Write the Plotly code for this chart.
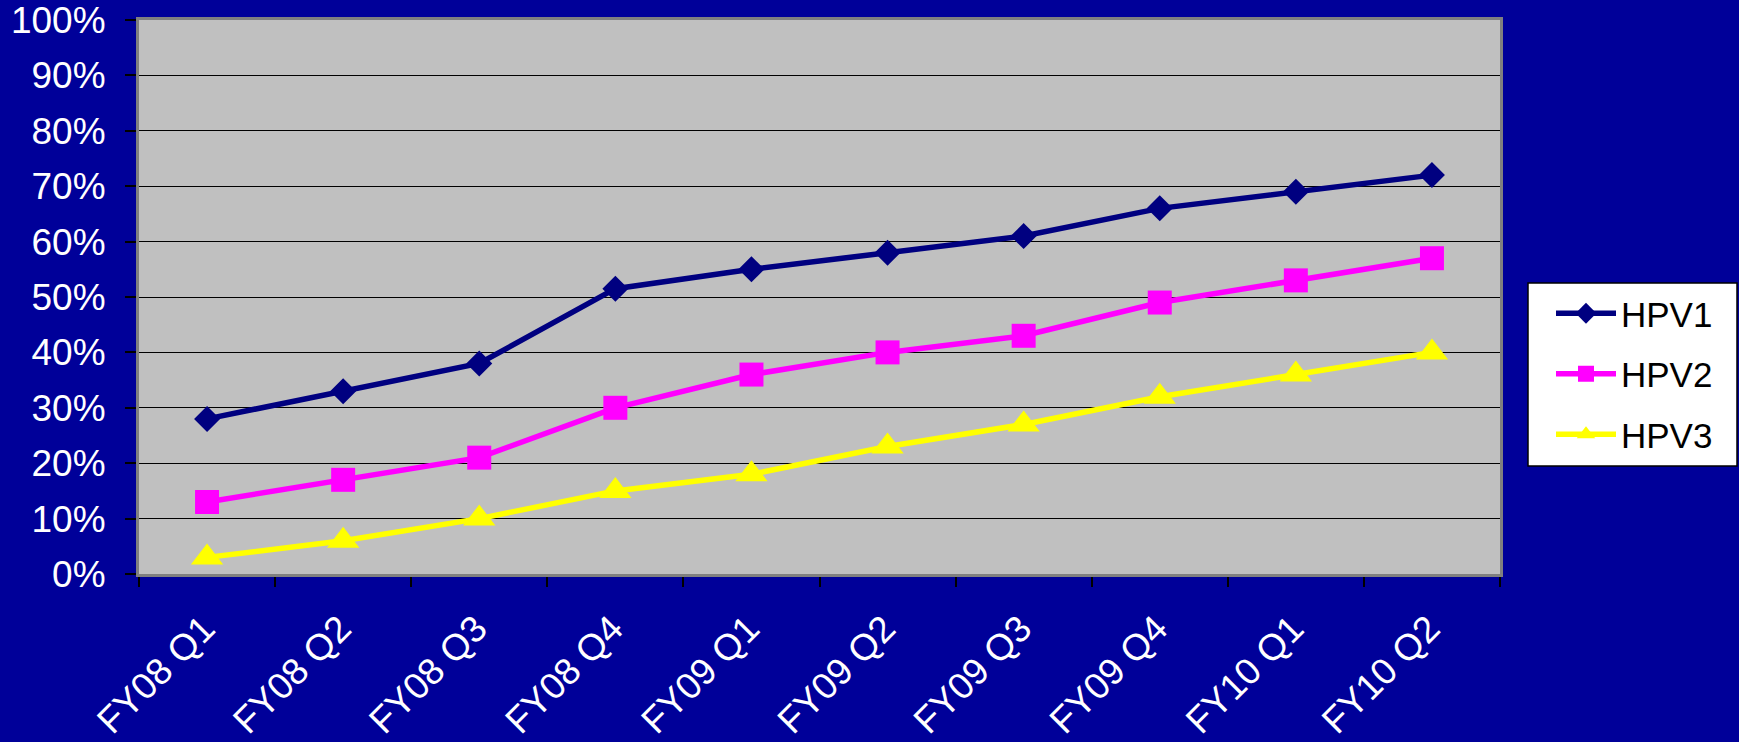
import plotly.graph_objects as go

categories = ["FY08 Q1", "FY08 Q2", "FY08 Q3", "FY08 Q4", "FY09 Q1",
              "FY09 Q2", "FY09 Q3", "FY09 Q4", "FY10 Q1", "FY10 Q2"]
hpv1 = [28, 33, 38, 51.5, 55, 58, 61, 66, 69, 72]
hpv2 = [13, 17, 21, 30, 36, 40, 43, 49, 53, 57]
hpv3 = [3, 6, 10, 15, 18, 23, 27, 32, 36, 40]
y_ticks = [0, 10, 20, 30, 40, 50, 60, 70, 80, 90, 100]
y_labels = [f"{v}%" for v in y_ticks]

series = [
    ("HPV1", hpv1, "#000080", "diamond", 20),
    ("HPV2", hpv2, "#FF00FF", "square", 24),
    ("HPV3", hpv3, "#FFFF00", "triangle-up", 28),
]

W, H = 1739, 742
L, R, T, B = 139, 239, 20, 168
plot_w = W - L - R
plot_h = H - T - B


def px_x(px):
    return (px - L) / plot_w


def px_y(py):
    return (H - B - py) / plot_h


fig = go.Figure()
for name, vals, color, sym, size in series:
    fig.add_trace(go.Scatter(
        x=categories, y=vals, name=name, mode="lines+markers",
        line=dict(color=color, width=5.5),
        marker=dict(symbol=sym, size=size, color=color, line=dict(width=0)),
        legendgroup=name,
    ))

font = "Liberation Sans, Arial, sans-serif"
fig.update_layout(
    width=W, height=H,
    paper_bgcolor="#000099",
    plot_bgcolor="#C0C0C0",
    margin=dict(l=L, r=R, t=T, b=B, autoexpand=False),
    font=dict(family=font, size=37, color="white"),
    showlegend=True,
    legend=dict(
        x=px_x(1551), y=px_y(284), xanchor="left", yanchor="top",
        bgcolor="rgba(0,0,0,0)", borderwidth=0,
        font=dict(family=font, size=35, color="black"),
        itemwidth=60, tracegroupgap=12, traceorder="grouped",
    ),
    shapes=[dict(
        type="rect", xref="paper", yref="paper",
        x0=px_x(1528), x1=px_x(1737), y0=px_y(466), y1=px_y(283),
        fillcolor="white", line=dict(color="black", width=1.5), layer="below",
    )],
)
fig.update_xaxes(
    type="category", range=[-0.5, 9.5],
    tickson="boundaries", ticks="outside", ticklen=10, tickcolor="black", tickwidth=2,
    tickangle=-45, showgrid=False, zeroline=False, ticklabelstandoff=15,
    ticklabelshift=-3,
    showline=True, linecolor="#808080", linewidth=3, mirror=True,
    tickfont=dict(family=font, size=37, color="white"),
)
fig.update_yaxes(
    range=[0, 100], tickvals=y_ticks, ticktext=y_labels,
    ticks="outside", ticklen=11, tickcolor="black", tickwidth=2,
    ticklabeloverflow="allow", ticklabelstandoff=12,
    showgrid=True, gridcolor="black", gridwidth=1, zeroline=False,
    showline=True, linecolor="#808080", linewidth=3, mirror=True,
    tickfont=dict(family=font, size=37, color="white"),
)
fig.write_html(
    "out.html",
    config={"displayModeBar": False},
    post_script="document.body.style.margin='0';document.body.style.background='#000099';document.body.style.overflow='hidden';",
)
